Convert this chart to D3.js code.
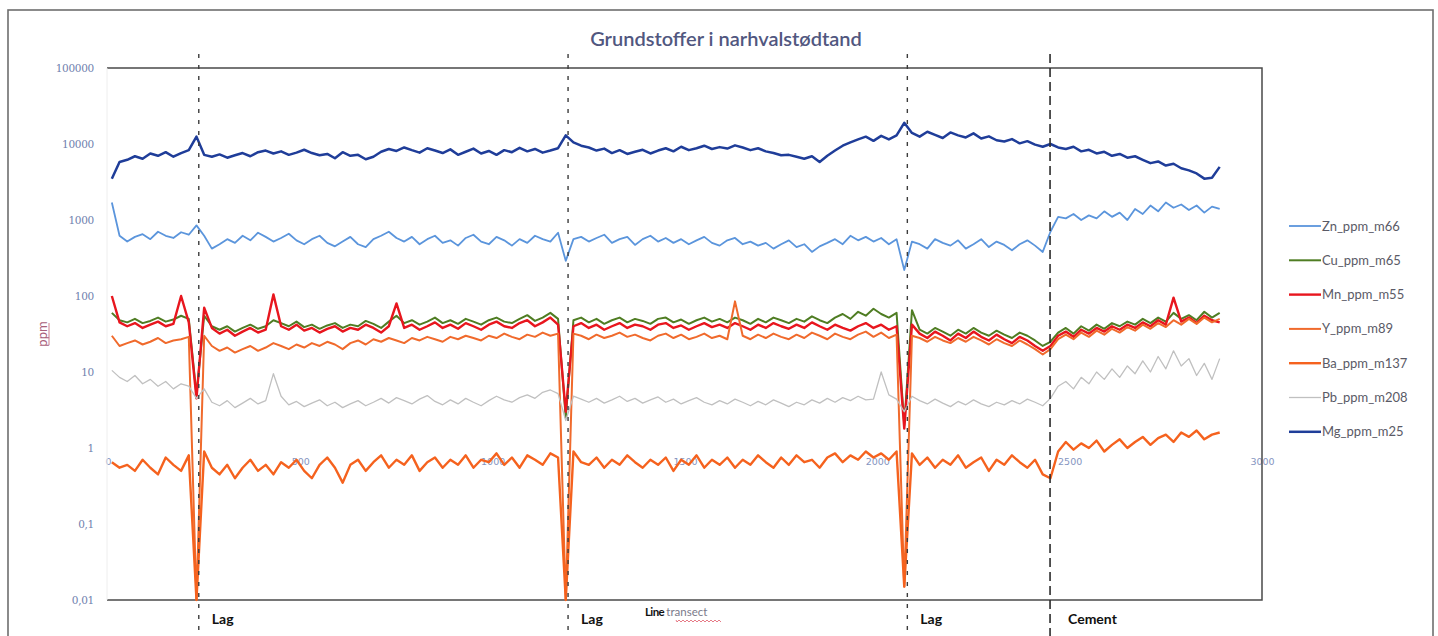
<!DOCTYPE html>
<html>
<head>
<meta charset="utf-8">
<script src="https://cdn.jsdelivr.net/npm/d3@7"></script>
<style>
  html, body { margin: 0; padding: 0; background: #ffffff; }
  svg { display: block; }
</style>
</head>
<body>
<svg id="chart" width="1438" height="636"></svg>
<script>
// ---------------- DATA ----------------
const title = "Grundstoffer i narhvalstødtand";
const yLabel = "ppm";
const xLabelA = "Line";
const xLabelB = "transect";
const transect = d3.range(10, 2900, 20); // 145 sample positions along the line transect
const yTickValues = [0.01, 0.1, 1, 10, 100, 1000, 10000, 100000];
const xTickValues = [0, 500, 1000, 1500, 2000, 2500, 3000];
const lagPositions = [236, 1196, 2078];
const cementPosition = 2449;
const lagLabel = "Lag";
const cementLabel = "Cement";

const seriesNames = ["Zn_ppm_m66", "Cu_ppm_m65", "Mn_ppm_m55", "Y_ppm_m89", "Ba_ppm_m137", "Pb_ppm_m208", "Mg_ppm_m25"];
const seriesColors = ["#5b95dc", "#4f7d23", "#e8161e", "#f06a2c", "#f5621e", "#c0c0c0", "#1f3d99"];
const seriesWidths = [1.8, 2, 2.4, 2, 2.4, 1.3, 2.5];

const Zn = [1700,620,520,600,650,560,700,620,580,690,
640,850,620,420,480,560,500,620,540,680,
600,520,580,660,540,480,560,620,500,450,
520,600,480,440,560,620,700,580,520,600,
480,560,620,500,540,460,580,640,520,480,
600,540,460,560,500,620,560,520,680,290,
560,600,520,580,640,500,560,600,470,560,
620,520,580,500,560,480,540,600,500,460,
540,580,480,520,460,500,420,480,540,440,
480,380,450,500,560,480,620,540,600,520,
580,480,560,220,520,480,420,560,500,460,
540,420,480,560,440,520,470,400,480,540,
460,380,700,1100,1050,1200,1000,1150,1050,1300,
1100,1250,1000,1400,1200,1550,1300,1700,1450,1600,
1350,1550,1250,1500,1400];

const Cu = [60,48,45,50,44,47,52,46,49,55,
50,5,55,40,36,40,34,38,42,37,
40,48,44,40,46,39,42,37,41,44,
38,42,40,47,43,38,46,55,44,48,
42,46,52,44,48,43,50,46,42,48,
52,46,44,50,56,47,52,60,50,2.5,
48,52,45,50,43,48,52,45,50,47,
43,50,52,45,49,43,48,52,46,50,
45,52,48,43,50,45,52,48,44,50,
46,54,48,44,52,58,50,62,55,68,
58,52,60,2,65,36,32,38,34,30,
36,32,38,33,30,35,31,28,33,30,
26,22,25,33,38,32,40,35,42,37,
44,40,46,42,50,44,52,46,60,50,
56,48,62,52,60];

const Mn = [100,45,40,44,38,42,46,40,43,100,
45,4.5,70,38,32,36,30,34,38,33,
36,105,40,36,42,35,38,33,37,40,
34,38,36,42,38,33,40,80,38,42,
36,40,45,38,42,37,44,40,36,42,
46,40,38,44,48,40,45,52,42,3,
40,44,38,42,36,40,44,38,42,40,
36,42,44,38,41,36,40,44,39,42,
38,44,40,36,42,38,44,40,37,42,
38,45,40,36,42,38,35,40,44,38,
42,36,40,1.8,42,32,28,34,30,26,
32,28,34,29,26,31,27,24,29,26,
22,19,22,30,34,29,36,32,38,34,
40,36,42,38,45,40,48,42,95,46,
52,44,55,48,45];

const Yt = [30,22,24,26,23,25,28,24,26,27,
29,0.01,30,22,19,21,18,20,22,19,
21,24,22,20,23,21,24,22,25,23,
20,24,26,23,27,25,28,26,24,28,
26,29,27,25,29,27,30,28,26,30,
28,32,29,27,31,29,33,30,32,0.01,
32,30,27,31,28,30,33,29,31,28,
26,30,32,28,31,27,29,32,28,30,
27,85,30,27,31,28,32,29,27,31,
28,33,30,27,32,29,27,31,34,29,
33,28,31,0.015,30,28,25,29,26,24,
28,25,29,26,23,27,24,22,26,23,
20,17,20,27,31,27,33,29,35,31,
37,33,39,35,42,37,44,39,48,42,
50,43,52,45,50];

const Ba = [0.65,0.55,0.6,0.5,0.7,0.55,0.45,0.75,0.6,0.5,
0.8,0.01,0.9,0.55,0.45,0.6,0.4,0.55,0.7,0.5,
0.6,0.45,0.65,0.55,0.7,0.5,0.4,0.6,0.75,0.55,
0.35,0.6,0.7,0.5,0.65,0.8,0.55,0.7,0.6,0.8,
0.5,0.65,0.75,0.55,0.7,0.6,0.8,0.55,0.7,0.65,
0.85,0.6,0.75,0.55,0.8,0.7,0.6,0.85,0.75,0.01,
0.9,0.65,0.6,0.75,0.55,0.7,0.6,0.8,0.65,0.55,
0.7,0.6,0.75,0.5,0.7,0.6,0.8,0.55,0.7,0.6,
0.75,0.55,0.7,0.6,0.8,0.65,0.55,0.75,0.6,0.8,
0.65,0.7,0.55,0.75,0.85,0.65,0.8,0.7,0.9,0.75,
0.85,0.7,0.9,0.015,0.85,0.6,0.75,0.55,0.7,0.6,
0.8,0.55,0.65,0.75,0.5,0.7,0.6,0.8,0.65,0.55,
0.7,0.45,0.4,0.9,1.2,0.95,1.15,1.0,1.25,0.9,
1.1,1.3,1.0,1.2,1.4,1.1,1.35,1.5,1.2,1.6,
1.4,1.7,1.3,1.5,1.6];

const Pb = [10.5,8.5,7.5,9,7,8,6.5,7.5,6,7,
6.5,4.5,6,4,3.6,4.2,3.4,3.9,4.5,3.8,
4.2,9.5,4.8,3.7,4.1,3.5,3.9,4.3,3.6,4.0,
3.4,3.8,4.2,3.6,4.0,4.5,3.9,4.6,4.2,3.8,
4.4,4.9,4.1,3.7,4.3,3.8,4.5,4.0,3.6,4.2,
4.8,4.3,4.0,4.6,5.0,4.5,5.4,5.8,5.2,2.3,
4.8,4.4,4.0,4.5,3.9,4.3,4.8,4.1,4.5,3.9,
4.3,4.7,4.0,4.4,3.8,4.2,4.6,4.0,3.7,4.2,
3.8,4.4,4.0,3.6,4.1,3.7,4.3,3.9,3.5,4.0,
3.7,4.3,3.9,4.5,4.0,4.6,4.2,4.8,4.3,4.4,
10,5.0,4.4,3.0,4.8,4.2,3.8,4.4,3.9,3.5,
4.1,3.7,4.3,3.8,3.5,4.0,3.7,4.2,3.8,4.4,
4.0,3.6,4.5,6.5,7.5,6.0,8.5,7.0,10,8.0,
11,8.5,12,9.5,14,10,16,11,19,12,
15,9,13,8,15];

const Mg = [3500,5800,6200,6900,6400,7500,7000,7800,6800,7600,
8300,12500,7200,6800,7300,6600,7100,7600,6900,7800,
8200,7500,8000,7200,7700,8400,7600,7100,7400,6500,
7800,7000,7200,6300,6800,7900,8600,8100,9000,8300,
7700,8800,8200,7600,8500,7200,7900,8700,7500,8100,
7200,8300,7800,8900,8000,8600,7700,8200,8800,13000,
10500,9500,9000,8200,8700,7600,8300,7400,7900,8400,
7500,8200,8800,8000,9200,8300,8800,9500,8600,9100,
8700,9600,9000,8300,8800,8000,7600,7100,7200,6800,
6400,6900,5800,7000,8200,9500,10500,11500,12500,11000,
12800,11500,13000,19000,14000,12500,14500,13200,12000,14200,
13000,12200,13800,11800,12600,11200,10800,11600,10200,10900,
9800,9200,10000,9000,8600,9200,8000,8400,7500,7900,
7000,7400,6600,6900,6200,5600,5900,5200,5500,4800,
4500,4100,3500,3600,5000];

const seriesValues = [Zn, Cu, Mn, Yt, Ba, Pb, Mg];

// ---------------- CHART ----------------
const svg = d3.select("#chart");
const W = 1438, H = 636;
const plot = { left: 108, right: 1262, top: 68, bottom: 600 };

const x = d3.scaleLinear().domain([0, 3000]).range([plot.left, plot.right]);
const y = d3.scaleLog().domain([0.01, 100000]).range([plot.bottom, plot.top]);

// outer frame
svg.append("rect").attr("x", 8).attr("y", 10).attr("width", 1425).attr("height", 640)
  .attr("fill", "none").attr("stroke", "#6e6e6e").attr("stroke-width", 1.6);

// title
svg.append("text").attr("x", 726).attr("y", 46).attr("text-anchor", "middle")
  .attr("font-family", "Lato, 'Open Sans', sans-serif").attr("font-size", 20).attr("font-weight", 600)
  .attr("fill", "#51577f").text(title);

// y axis (labels only)
const fmt = v => String(v).replace(".", ",");
const yAxis = d3.axisLeft(y).tickValues(yTickValues).tickFormat(fmt).tickSize(0).tickPadding(14);
const gy = svg.append("g").attr("transform", `translate(${plot.left},0)`).call(yAxis);
gy.select(".domain").remove();
gy.selectAll("text").attr("font-family", "'DejaVu Serif', serif").attr("font-size", 10.5)
  .attr("fill", "#6f7fae").attr("letter-spacing", -0.3);

// y axis title
const yl = svg.append("g").attr("transform", `translate(42,${(y(10) + y(100)) / 2}) rotate(-90)`);
yl.append("text").attr("text-anchor", "middle").attr("dy", "0.35em")
  .attr("font-family", "Lato, sans-serif").attr("font-size", 13).attr("fill", "#a8607a").text(yLabel);
yl.append("line").attr("x1", -11).attr("x2", 11).attr("y1", 7).attr("y2", 7)
  .attr("stroke", "#c06070").attr("stroke-width", 0.8);

// x axis crossing at 1 (labels only)
const xAxis = d3.axisBottom(x).tickValues(xTickValues).tickFormat(d3.format("d")).tickSize(0).tickPadding(10);
const gx = svg.append("g").attr("transform", `translate(0,${y(1)})`).call(xAxis);
gx.select(".domain").remove();
gx.selectAll("text").attr("font-family", "'DejaVu Sans', sans-serif").attr("font-size", 9.5).attr("fill", "#8595bf");

// plot frame: top, right, bottom
svg.append("path")
  .attr("d", `M${plot.left - 1},${plot.top}H${plot.right}V${plot.bottom}H${plot.left - 1}`)
  .attr("fill", "none").attr("stroke", "#4a4a4a").attr("stroke-width", 1.5);
svg.append("line").attr("x1", plot.left - 1).attr("x2", plot.left - 1).attr("y1", plot.top).attr("y2", plot.bottom)
  .attr("stroke", "#eeeeee").attr("stroke-width", 1);

// series lines
const line = d3.line().x((d, i) => x(transect[i])).y(d => y(d));
seriesValues.forEach((vals, k) => {
  svg.append("path").datum(vals).attr("d", line)
    .attr("fill", "none").attr("stroke", seriesColors[k]).attr("stroke-width", seriesWidths[k])
    .attr("stroke-linejoin", "round");
});

// lag & cement markers
lagPositions.forEach(p => {
  svg.append("line").attr("x1", x(p)).attr("x2", x(p)).attr("y1", 54).attr("y2", H)
    .attr("stroke", "#3c3c3c").attr("stroke-width", 1.4).attr("stroke-dasharray", "4,7");
  svg.append("text").attr("x", x(p) + 13).attr("y", 624)
    .attr("font-family", "Lato, sans-serif").attr("font-weight", 700).attr("font-size", 14)
    .attr("fill", "#111").text(lagLabel);
});
svg.append("line").attr("x1", x(cementPosition)).attr("x2", x(cementPosition)).attr("y1", 54).attr("y2", H)
  .attr("stroke", "#2c2c2c").attr("stroke-width", 1.6).attr("stroke-dasharray", "9,5");
svg.append("text").attr("x", x(cementPosition) + 18).attr("y", 624)
  .attr("font-family", "Lato, sans-serif").attr("font-weight", 700).attr("font-size", 14)
  .attr("fill", "#111").text(cementLabel);

// x axis title "Line transect"
const xt = svg.append("text").attr("x", 645).attr("y", 616)
  .attr("font-family", "Lato, sans-serif").attr("font-size", 11.5);
xt.append("tspan").attr("font-weight", 700).attr("fill", "#111").attr("letter-spacing", -0.6).text(xLabelA + " ");
xt.append("tspan").attr("fill", "#7a7a8a").text(xLabelB);
// spell-check squiggle under "transect"
{
  let d = "M676,620";
  for (let xx = 676; xx < 722; xx += 2) d += `L${xx + 1},${(xx / 2) % 2 === 0 ? 622 : 620}`;
  svg.append("path").attr("d", d).attr("fill", "none").attr("stroke", "#e05a6a").attr("stroke-width", 0.8);
}

// legend
const lg = svg.append("g").attr("transform", "translate(1289,226)");
seriesNames.forEach((name, k) => {
  const g = lg.append("g").attr("transform", `translate(0,${k * 34.3})`);
  g.append("line").attr("x1", 0).attr("x2", 32).attr("y1", 0).attr("y2", 0)
    .attr("stroke", seriesColors[k]).attr("stroke-width", Math.max(1.2, seriesWidths[k]));
  g.append("text").attr("x", 33).attr("y", 0).attr("dy", "0.35em")
    .attr("font-family", "Lato, sans-serif").attr("font-size", 13).attr("fill", "#5a5a66").text(name);
});
</script>
</body>
</html>
